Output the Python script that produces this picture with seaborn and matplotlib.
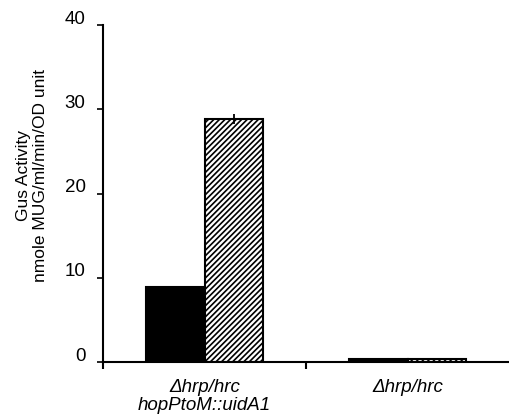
import numpy as np
import pandas as pd
import matplotlib
matplotlib.use("Agg")
import matplotlib.pyplot as plt
import matplotlib.transforms as mtransforms
import seaborn as sns

# --- DATA ---
strains = ["\u0394hrp/hrc\nhopPtoM::uidA1", "\u0394hrp/hrc"]
conditions = ["control", "induced"]
gus_control = [8.9, 0.4]
gus_induced = [28.9, 0.4]
gus_err = [0.6, 0.0]
y_ticks = [0, 10, 20, 30, 40]

sns.set_theme(style="white")
plt.rcParams['font.family'] = ['Liberation Sans', 'DejaVu Sans']
plt.rcParams['text.color'] = 'black'
plt.rcParams['axes.labelcolor'] = 'black'
plt.rcParams['xtick.color'] = 'black'
plt.rcParams['ytick.color'] = 'black'
plt.rcParams['hatch.linewidth'] = 1.2

df = pd.DataFrame({
    "strain": strains * 2,
    "condition": [conditions[0]] * 2 + [conditions[1]] * 2,
    "value": gus_control + gus_induced,
})

fig = plt.figure(figsize=(5.09, 4.19), dpi=100)
ax = fig.add_axes([0.2024, 0.136, 0.7976, 0.804])

sns.barplot(data=df, x="strain", y="value", hue="condition", order=strains,
            hue_order=conditions, palette=["black", "white"], width=0.58,
            edgecolor="black", linewidth=1.5, errorbar=None, legend=False,
            saturation=1, ax=ax)

# hatch the induced bars and add error bars
n = len(strains)
for i, patch in enumerate(ax.patches[:2 * n]):
    if i >= n:
        patch.set_hatch("//////")
        j = i - n
        if gus_err[j] > 0:
            cx = patch.get_x() + patch.get_width() / 2
            ax.errorbar(cx, gus_induced[j], yerr=gus_err[j], color="black",
                        capsize=0, elinewidth=1.3)

ax.set_xlim(-0.5, 1.5)
ax.set_ylim(0, 40)
ax.set_yticks(y_ticks)
ax.set_yticklabels([str(t) for t in y_ticks], fontsize=13.5)

ax.set_xticks([0, 1])
ax.set_xticklabels(strains, fontsize=13.5, style="italic", linespacing=1.1)
ax.tick_params(axis="x", which="major", length=0, pad=12, bottom=True)
ax.set_xticks([-0.5, 0.5], minor=True)
ax.tick_params(axis="x", which="minor", length=5, width=1.5, direction="out", bottom=True)
ax.tick_params(axis="y", length=4, width=1.2, direction="out", pad=8.5, left=True)
ax.set_xlabel("")
ax.set_ylabel("Gus Activity\nnmole MUG/ml/min/OD unit", fontsize=12.5, linespacing=1.2)
ax.yaxis.set_label_coords(-0.135, 0.555)

sns.despine(ax=ax, top=True, right=True)
for side in ["left", "bottom"]:
    ax.spines[side].set_linewidth(1.5)
    ax.spines[side].set_color("black")

# tick labels sit a little above their ticks in the original
fig.canvas.draw()
shift = mtransforms.ScaledTranslation(0, 8 / 100, fig.dpi_scale_trans)
for tick in ax.yaxis.get_major_ticks():
    tick.label1.set_transform(tick.label1.get_transform() + shift)

fig.savefig("out.png", dpi=100)
